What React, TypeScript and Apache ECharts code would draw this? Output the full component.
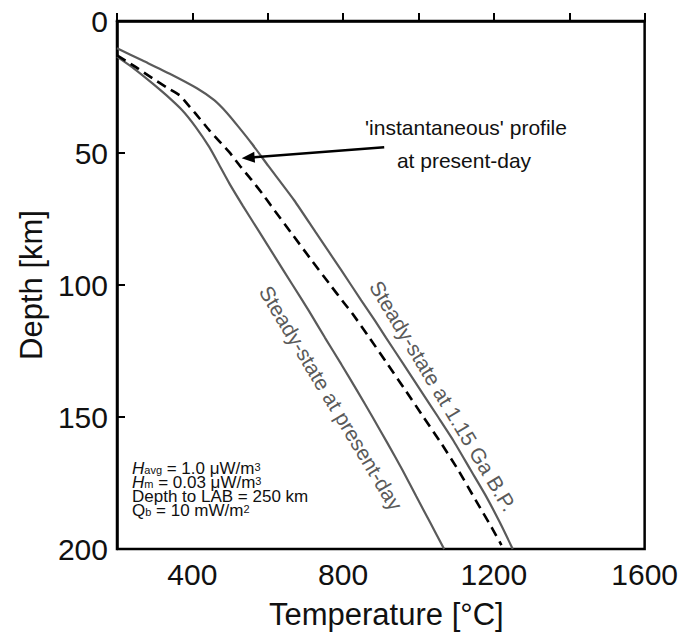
import React, { useEffect, useRef } from "react";
import * as echarts from "echarts";

// Geotherms: [temperature °C, depth km]
const presentDaySteady: [number, number][] = [
  [200, 13.5], [245, 18], [294, 23.6], [330, 28], [373, 33.8], [408, 40], [445, 47.8],
  [473, 55], [498, 61.5], [534, 70], [578, 80], [622, 90], [666, 100], [710, 110],
  [752, 120], [795, 130], [837, 140], [878, 150], [918, 160], [957, 170], [994, 180],
  [1031, 190], [1068, 200],
];
const instantaneousProfile: [number, number][] = [
  [200, 13], [245, 17], [294, 21.7], [330, 25], [366, 28.1], [378, 30], [408, 35],
  [445, 41.4], [468, 45], [498, 49.7], [527, 55], [556, 60], [585, 65.3], [609, 70],
  [661, 80], [713, 90], [766, 100], [803, 106.9], [824, 110.7], [870, 120], [918, 130],
  [966, 140], [1013, 150], [1060, 159.9], [1105, 170], [1152, 181.6], [1194, 191.8], [1220, 198.5],
];
const steady115Ga: [number, number][] = [
  [200, 10.3], [268, 15], [340, 20], [412, 25.5], [458, 30], [493, 35], [522, 40],
  [557, 46.3], [602, 55], [670, 67.9], [727, 80], [795, 94.4], [848, 105.8], [884, 113.4],
  [914, 120], [960, 130], [1006, 140], [1052, 150], [1092, 158.8], [1138, 170],
  [1178, 179.7], [1216, 190], [1250, 200],
];

// Arrow pointing at the instantaneous profile: [start, end] in data coordinates
const arrowStart: [number, number] = [909, 47.8];
const arrowEnd: [number, number] = [548, 51.8];

const xLabelValues = [400, 800, 1200, 1600];

const FONT = "'Liberation Sans', Arial, Helvetica, sans-serif";
const GRAY = "#5a5a5a";

const deg = Math.PI / 180;

const infoText = [
  "{i|H}{sub|avg} = 1.0 μW/m{sup|3}",
  "{i|H}{sub|m} = 0.03 μW/m{sup|3}",
  "Depth to LAB = 250 km",
  "Q{sub|b} = 10 mW/m{sup|2}",
].join("\n");

const richInfo = {
  i: { fontStyle: "italic", fontSize: 17, fontFamily: FONT, fill: "#111", lineHeight: 14 },
  sub: { fontSize: 11, fontFamily: FONT, verticalAlign: "bottom", lineHeight: 9, fill: "#111" },
  sup: { fontSize: 11, fontFamily: FONT, verticalAlign: "top", lineHeight: 9, fill: "#111" },
};

export default function App() {
  const ref = useRef<HTMLDivElement>(null);

  useEffect(() => {
    if (!ref.current) return;
    const chart = echarts.init(ref.current, undefined, { renderer: "svg" });

    chart.setOption({
      animation: false,
      backgroundColor: "#fff",
      grid: {
        left: 117,
        right: 35,
        top: 21,
        bottom: 88,
        show: true,
        borderColor: "#000",
        borderWidth: 2.5,
        containLabel: false,
      },
      xAxis: {
        type: "value",
        min: 200,
        max: 1600,
        interval: 200,
        name: "Temperature [°C]",
        nameLocation: "middle",
        nameGap: 50,
        nameTextStyle: { fontSize: 31, fontFamily: FONT, color: "#111", padding: [0, 0, 0, 11] },
        axisLine: { show: true, lineStyle: { color: "#000", width: 2.5 } },
        axisTick: { show: true, inside: true, length: 8, lineStyle: { color: "#000", width: 2 } },
        axisLabel: {
          fontSize: 30,
          fontFamily: FONT,
          color: "#111",
          margin: 10,
          formatter: (v: number) => (xLabelValues.includes(v) ? String(v) : ""),
        },
        splitLine: { show: false },
      },
      yAxis: {
        type: "value",
        inverse: true,
        min: 0,
        max: 200,
        interval: 50,
        name: "Depth [km]",
        nameLocation: "middle",
        nameGap: 67,
        nameTextStyle: { fontSize: 31, fontFamily: FONT, color: "#111" },
        axisLine: { show: true, lineStyle: { color: "#000", width: 2.5 } },
        axisTick: { show: true, inside: true, length: 8, lineStyle: { color: "#000", width: 2 } },
        axisLabel: { fontSize: 30, fontFamily: FONT, color: "#111", margin: 9 },
        splitLine: { show: false },
      },
      series: [
        {
          name: "Steady-state at present-day",
          type: "line",
          data: presentDaySteady,
          showSymbol: false,
          smooth: 0.2,
          silent: true,
          lineStyle: { color: GRAY, width: 2.2 },
        },
        {
          name: "'instantaneous' profile at present-day",
          type: "line",
          data: instantaneousProfile,
          showSymbol: false,
          smooth: 0.2,
          silent: true,
          lineStyle: { color: "#000", width: 2.6, type: [10, 6] },
          markLine: {
            silent: true,
            symbol: ["none", "triangle"],
            symbolSize: [11, 13],
            label: { show: false },
            lineStyle: { color: "#000", width: 2.5, type: "solid" },
            data: [[{ coord: arrowStart }, { coord: arrowEnd }]],
          },
        },
        {
          name: "Steady-state at 1.15 Ga B.P.",
          type: "line",
          data: steady115Ga,
          showSymbol: false,
          smooth: 0.2,
          silent: true,
          lineStyle: { color: GRAY, width: 2.2 },
        },
      ],
      graphic: [
        {
          type: "text",
          x: 466,
          y: 127,
          silent: true,
          style: {
            text: "'instantaneous' profile",
            fontSize: 21,
            fontFamily: FONT,
            fill: "#111",
            align: "center",
            verticalAlign: "middle",
          },
        },
        {
          type: "text",
          x: 464,
          y: 160,
          silent: true,
          style: {
            text: "at present-day",
            fontSize: 21,
            fontFamily: FONT,
            fill: "#111",
            align: "center",
            verticalAlign: "middle",
          },
        },
        {
          type: "text",
          x: 331,
          y: 398,
          rotation: -59 * deg,
          silent: true,
          style: {
            text: "Steady-state at present-day",
            fontSize: 21,
            fontFamily: FONT,
            fill: GRAY,
            align: "center",
            verticalAlign: "middle",
          },
        },
        {
          type: "text",
          x: 443,
          y: 396,
          rotation: -59 * deg,
          silent: true,
          style: {
            text: "Steady-state at 1.15 Ga B.P.",
            fontSize: 21,
            fontFamily: FONT,
            fill: GRAY,
            align: "center",
            verticalAlign: "middle",
          },
        },
        {
          type: "text",
          x: 132,
          y: 461,
          silent: true,
          style: {
            text: infoText,
            fontSize: 17,
            fontFamily: FONT,
            fill: "#111",
            align: "left",
            verticalAlign: "top",
            lineHeight: 14,
            rich: richInfo,
          },
        },
      ],
    });

    return () => chart.dispose();
  }, []);

  return (
    <div
      ref={ref}
      style={{ position: "absolute", left: 0, top: 0, width: 681, height: 637 }}
    />
  );
}
